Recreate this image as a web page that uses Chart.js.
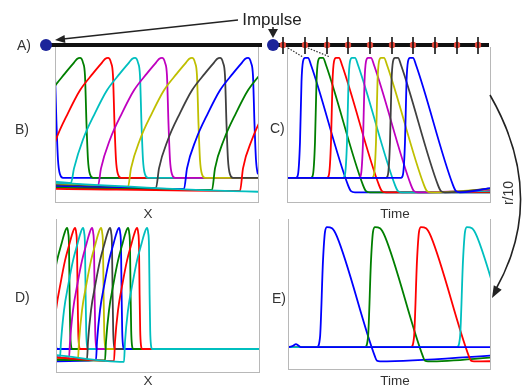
<!DOCTYPE html>
<html>
<head>
<meta charset="utf-8">
<script src="https://cdn.jsdelivr.net/npm/chart.js"></script>
<style>
  body { margin: 0; background: #fff; }
  #fig { position: relative; width: 522px; height: 385px; overflow: hidden; font-family: "Liberation Sans", Arial, sans-serif; }
  .panel { position: absolute; box-sizing: border-box; border: 1px solid #b8b8b8; border-top: none; }
  .panel canvas { display: block; }
  svg { position: absolute; left: 0; top: 0; pointer-events: none; }
</style>
</head>
<body>
<div id="fig">
  <div class="panel" style="left:55px;top:47px;width:204px;height:156px"><canvas id="panelB"></canvas></div>
  <div class="panel" style="left:287px;top:47px;width:204px;height:156px"><canvas id="panelC"></canvas></div>
  <div class="panel" style="left:56px;top:219px;width:204px;height:154px"><canvas id="panelD"></canvas></div>
  <div class="panel" style="left:288px;top:219px;width:203px;height:151px"><canvas id="panelE"></canvas></div>

  <svg width="522" height="385">
    <!-- A) cable with stimulus points -->
    <line x1="46" y1="45" x2="262" y2="45" stroke="#111" stroke-width="4"/>
    <line x1="273" y1="45" x2="489" y2="45" stroke="#111" stroke-width="4"/>
    <g id="ticks"></g>
    <circle cx="46" cy="45" r="6" fill="#1b249a"/>
    <circle cx="273" cy="45" r="6" fill="#1b249a"/>
    <line x1="288" y1="48" x2="303" y2="57" stroke="#333" stroke-width="1.2" stroke-dasharray="1.5,1.5"/>
    <line x1="308" y1="48" x2="330" y2="57" stroke="#333" stroke-width="1.2" stroke-dasharray="1.5,1.5"/>

    <!-- Impulse arrows -->
    <text x="272" y="25" font-size="17" text-anchor="middle" fill="#222">Impulse</text>
    <line x1="238" y1="20" x2="63" y2="39" stroke="#222" stroke-width="1.5"/>
    <polygon points="55,40 65.4,42.9 64.5,34.9" fill="#222"/>
    <line x1="273" y1="27" x2="273" y2="31" stroke="#222" stroke-width="1.5"/>
    <polygon points="273,38 268,29 278,29" fill="#222"/>

    <!-- panel labels -->
    <text x="17" y="50" font-size="14" fill="#333">A)</text>
    <text x="15" y="134" font-size="14" fill="#333">B)</text>
    <text x="270" y="133" font-size="14" fill="#333">C)</text>
    <text x="15" y="302" font-size="14" fill="#333">D)</text>
    <text x="272" y="303" font-size="14" fill="#333">E)</text>

    <text x="148" y="218" font-size="13.5" text-anchor="middle" fill="#333">X</text>
    <text x="395" y="218" font-size="13.5" text-anchor="middle" fill="#333">Time</text>
    <text x="148" y="385" font-size="13.5" text-anchor="middle" fill="#333">X</text>
    <text x="395" y="385" font-size="13.5" text-anchor="middle" fill="#333">Time</text>

    <!-- r/10 curved arrow -->
    <path d="M490,95 Q548,196 496,289" fill="none" stroke="#222" stroke-width="1.6"/>
    <polygon points="492,298 501.7,289.7 493.8,285.3" fill="#222"/>
    <text x="0" y="0" font-size="14" text-anchor="middle" fill="#333" transform="translate(513,193) rotate(-90)">r/10</text>
  </svg>
</div>

<script>
// stimulus sites along the cable (A)
var stimX = [283, 305, 327, 348, 370, 392, 413, 435, 457, 478];

// MATLAB-like colour order
var palette = ['#0000ff', '#007f00', '#ff0000', '#00bfbf', '#bf00bf', '#bfbf00', '#404040'];

// B) snapshots in space: peak position of each wave, undershoot levels
var bPeakX = [-5, 25, 53, 80, 107, 137, 165, 193, 221, 249, 277];
var bFootV = [-2, -3, -4, -4, -6.5, -7.5, -8.3, -9.2, -10, -10.8, -11.5];
var bLeftV = [-2, -3, -3, -3, -4, -5, -6, -7, -8, -9, -4];
var bFootDx = -64;
var bShape = [[-61, 8], [-52, 32], [-40, 54], [-28, 73], [-15, 87], [-6, 96], [-3, 99], [0, 100],
              [3, 96], [5, 85], [6.5, 45], [8, 15], [10, 3], [13, 0], [400, 0]];

// C) recordings in time at successive sites
var cPeakT = [16, 31, 47, 63, 79, 92, 106, 121];
var cEndV = [-12, -12, -11.5, -10.5, -9.5, -8.5, -7.5, -6.5];
var cShape = [[-300, 0], [-7, 0], [-5, 3], [-3, 30], [-1.5, 80], [0, 97], [2, 100], [5, 100],
              [8, 94], [45, -6], [48, -11], [52, -12]];

// D) snapshots in space, slower conduction
var dPeakX = [-4, 11, 19, 27, 36, 45, 54, 63, 72, 81, 91];
var dFootV = [-4, -5, -6, -7, -7.5, -8, -8.5, -9, -9.5, -10, -10.7];
var dLeftV = [-3, -3.3, -4.7, -6, -6.9, -8, -8.8, -10.2, -9, -7, -5];
var dFootDx = -23;
var dShape = [[-22, 6], [-19, 32], [-14.5, 54], [-10, 73], [-5.5, 87], [-2, 97], [0, 100],
              [1.2, 96], [2, 85], [2.6, 45], [3.2, 15], [4, 3], [5.2, 0], [400, 0]];

// E) recordings in time, r/10
var ePeakT = [39, 87, 133, 179];
var eEndV = [-6.7, -8.3, -11.7, null];
var eShape = [[-300, 0], [-10, 0], [-7, 8], [-4, 72], [-2, 96], [0, 100], [5, 99], [10, 92],
              [48, -8], [50, -11.5], [53, -12]];
var eRestX = [-10, 0, 5, 8, 10, 13, 300];
var eRestV = [0, 0, 1, 2.5, 1.5, 0, 0];

// ticks and red markers on the cable
var tg = document.getElementById('ticks');
stimX.forEach(function (x) {
    tg.insertAdjacentHTML('beforeend',
        '<circle cx="' + x + '" cy="45" r="3.2" fill="#e8473a"/>' +
        '<line x1="' + x + '" y1="37" x2="' + x + '" y2="54" stroke="#111" stroke-width="1.6"/>');
});

function spaceTrace(peak, footDx, footV, leftV, shape) {
    var pts = [];
    var footX = peak + footDx;
    if (footX > 0) pts.push({x: 0, y: leftV});
    pts.push({x: footX, y: footV});
    shape.forEach(function (p) { pts.push({x: peak + p[0], y: p[1]}); });
    return pts;
}

function timeTrace(peak, shape, endX, endV) {
    var pts = shape.map(function (p) { return {x: peak + p[0], y: p[1]}; });
    if (endV !== null) pts.push({x: endX, y: endV});
    return pts;
}

function makeChart(id, datasets, xMax, yMin, yMax) {
    datasets.forEach(function (ds, i) {
        ds.order = -i;
        ds.borderWidth = 1.8;
        ds.pointRadius = 0;
        ds.fill = false;
        ds.cubicInterpolationMode = 'monotone';
    });
    new Chart(document.getElementById(id).getContext('2d'), {
        type: 'line',
        data: { datasets: datasets },
        options: {
            responsive: true,
            maintainAspectRatio: false,
            animation: false,
            layout: { padding: 0 },
            plugins: { legend: { display: false }, tooltip: { enabled: false } },
            scales: {
                x: { type: 'linear', display: false, min: 1, max: xMax },
                y: { display: false, min: yMin, max: yMax }
            }
        }
    });
}

var bSets = bPeakX.map(function (p, i) {
    return { data: spaceTrace(p, bFootDx, bFootV[i], bLeftV[i], bShape), borderColor: palette[i % 7] };
});
makeChart('panelB', bSets, 203, -20, 109);

var cSets = cPeakT.map(function (p, i) {
    return { data: timeTrace(p, cShape, 215, cEndV[i]), borderColor: palette[i % 7] };
});
makeChart('panelC', cSets, 203, -20, 109);

var dSets = dPeakX.map(function (p, i) {
    return { data: spaceTrace(p, dFootDx, dFootV[i], dLeftV[i], dShape), borderColor: palette[i % 7] };
});
makeChart('panelD', dSets, 203, -19, 107.4);

var eSets = ePeakT.map(function (p, i) {
    return { data: timeTrace(p, eShape, 210, eEndV[i]), borderColor: palette[i % 7] };
});
eSets.push({ data: eRestX.map(function (x, k) { return {x: x, y: eRestV[k]}; }), borderColor: palette[0] });
makeChart('panelE', eSets, 202, -18.3, 106.7);
</script>
</body>
</html>
